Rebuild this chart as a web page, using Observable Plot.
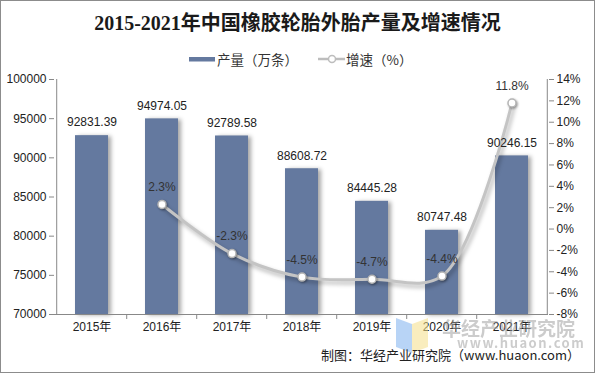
<!DOCTYPE html>
<html><head><meta charset="utf-8">
<script src="https://cdn.jsdelivr.net/npm/d3@7"></script>
<script src="https://cdn.jsdelivr.net/npm/@observablehq/plot@0.6"></script>
<style>
body{margin:0;background:#fff;}
#wrap{position:relative;width:595px;height:373px;overflow:hidden;font-family:"Liberation Sans",Arial,"Noto Sans CJK SC",sans-serif;}
#frame{position:absolute;left:0;top:0;width:593px;height:371px;border:1px solid #8c8c8c;pointer-events:none;}
#title{position:absolute;left:0;width:595px;top:9px;text-align:center;font-family:"Liberation Serif","Noto Sans CJK SC",serif;font-weight:bold;font-size:20px;line-height:28px;color:#1a1a1a;}
#legend{position:absolute;top:49px;left:189px;font-size:13.5px;line-height:20px;color:#333;font-family:"Noto Sans CJK SC",sans-serif;display:flex;align-items:center;}
#chart{position:absolute;left:0;top:0;}
.wm{position:absolute;color:#9a9a9a;opacity:0.5;font-family:"Noto Sans CJK SC",sans-serif;font-weight:bold;line-height:1;}
#cap{position:absolute;right:15px;top:345px;font-size:13px;line-height:20px;color:#222;font-family:"Noto Sans CJK SC","Liberation Sans",sans-serif;}
</style></head>
<body>
<div id="wrap">
<div id="chart"></div>
<div id="title">2015-2021年中国橡胶轮胎外胎产量及增速情况</div>
<div id="legend">
 <svg width="28" height="10"><rect x="0" y="3" width="26" height="4.5" fill="#64799f"/></svg>
 <span>产量（万条）</span>
 <svg width="28" height="12" style="margin-left:20px"><line x1="0" y1="6" x2="27" y2="6" stroke="#bdbdbd" stroke-width="2.5"/><circle cx="14" cy="6" r="3.5" fill="#fff" stroke="#bdbdbd" stroke-width="1.5"/></svg>
 <span>增速（%）</span>
</div>
<svg style="position:absolute;left:395px;top:316px;opacity:0.55" width="34" height="38"><polygon points="1,2 17,8 17,37 1,31" fill="#7fb2f0"/><polygon points="17,8 33,2 33,31 17,37" fill="#f5e08a"/></svg>
<div class="wm" style="left:442px;top:318px;font-size:19px;">华经产业研究院</div>
<div class="wm" style="left:457px;top:336px;font-size:13px;letter-spacing:1.5px;">www.huaon.com</div>
<div id="cap">制图：华经产业研究院（www.huaon.com）</div>
<div id="frame"></div>
</div>
<script>
const years = ["2015年","2016年","2017年","2018年","2019年","2020年","2021年"];
const output = [92831.39, 94974.05, 92789.58, 88608.72, 84445.28, 80747.48, 90246.15];
const growthYears = ["2016年","2017年","2018年","2019年","2020年","2021年"];
const growth = [2.3, -2.3, -4.5, -4.7, -4.4, 11.8];
const leftTicks = [70000,75000,80000,85000,90000,95000,100000];
const rightTicks = [-8,-6,-4,-2,0,2,4,6,8,10,12,14];

const yMin = 70000, yMax = 100000, gMin = -8, gMax = 14;
const g2y = g => yMin + (g - gMin) / (gMax - gMin) * (yMax - yMin);
const y2g = y => gMin + (y - yMin) / (yMax - yMin) * (gMax - gMin);

const bars = years.map((y, i) => ({year: y, value: output[i]}));
const pts = growthYears.map((y, i) => ({year: y, g: growth[i], v: g2y(growth[i])}));

const W = 595, ML = 54, MR = 47;
const half = (W - ML - MR) / years.length / 2;

const chart = Plot.plot({
  width: W, height: 373,
  marginTop: 79, marginBottom: 59, marginLeft: ML, marginRight: MR,
  style: {fontFamily: "'Liberation Sans', Arial, 'Noto Sans CJK SC', sans-serif", fontSize: "12px", color: "#333", background: "transparent"},
  x: {domain: years, paddingInner: 0.53, paddingOuter: 0.265, align: 0.5, axis: null},
  y: {type: "linear", domain: [yMin, yMax], axis: null},
  marks: [
    Plot.barY(bars, {x: "year", y1: yMin, y2: "value", fill: "#64799f"}),
    Plot.line(pts, {x: "year", y: "v", stroke: "#c4c4c4", strokeWidth: 3, curve: "catmull-rom"}),
    Plot.dot(pts, {x: "year", y: "v", r: 4, fill: "#fff", stroke: "#b5b5b5", strokeWidth: 1.5}),
    Plot.text(bars, {x: "year", y: "value", text: d => d.value.toFixed(2), dy: -13, fill: "#222", fontSize: 12}),
    Plot.text(pts, {x: "year", y: "v", text: d => d.g.toFixed(1) + "%", dy: -17, fill: "#333", fontSize: 12}),
    // left axis
    Plot.axisY({ticks: leftTicks, anchor: "left", label: null, tickSize: 5, tickPadding: 3, tickFormat: d => String(d), fontSize: 12, stroke: "#888", fill: "#222"}),
    Plot.ruleX([years[0]], {dx: -half, stroke: "#888"}),
    // right axis
    Plot.axisY({ticks: rightTicks.map(g2y), anchor: "right", label: null, tickSize: 5, tickPadding: 3, tickFormat: d => Math.round(y2g(d)) + "%", fontSize: 12, stroke: "#888", fill: "#222"}),
    Plot.ruleX([years[years.length - 1]], {dx: half, stroke: "#888"}),
    // x axis
    Plot.ruleY([yMin], {stroke: "#888"}),
    Plot.axisX({anchor: "bottom", label: null, tickSize: 0, tickPadding: 8, fontSize: 12, fill: "#222"}),
    Plot.ruleX(years.slice(1), {x: d => d, y1: yMin, y2: yMin, dx: -half, insetBottom: -5, stroke: "#888"}),
  ]
});
document.getElementById("chart").appendChild(chart);
const svg = d3.select(chart);
svg.selectAll('g[aria-label="bar"]').style("filter", "drop-shadow(3px 1px 2px rgba(0,0,0,0.35))");
svg.selectAll('g[aria-label="line"]').style("filter", "drop-shadow(2px 3px 2px rgba(0,0,0,0.3))");
svg.selectAll('g[aria-label="dot"]').style("filter", "drop-shadow(1px 1px 1px rgba(0,0,0,0.4))");
</script>
</body></html>
